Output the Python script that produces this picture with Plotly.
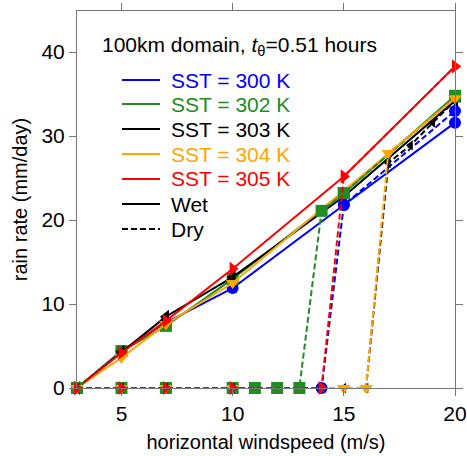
import plotly.graph_objects as go

# ---- data ----
x_wet = [3, 5, 7, 10, 15, 20]
wet_300 = [0, 4.4, 7.8, 11.9, 21.8, 31.6]
wet_302 = [0, 4.4, 7.4, 13.0, 23.2, 34.8]
wet_303 = [0, 4.3, 8.5, 13.2, 22.8, 34.2]
wet_304 = [0, 3.6, 7.6, 12.5, 23.5, 34.5]
wet_305 = [0, 4.2, 8.0, 14.2, 25.2, 38.3]

x_dry_300 = [3, 5, 7, 10, 14, 15, 20]
dry_300 = [0, 0, 0, 0, 0, 21.8, 33.0]
x_dry_302 = [3, 5, 7, 10, 11, 12, 13, 14, 15, 20]
dry_302 = [0, 0, 0, 0, 0, 0, 0, 21.1, 23.2, 34.7]
x_dry_303 = [3, 5, 7, 10, 15, 16, 17, 18, 19, 20]
dry_303 = [0, 0, 0, 0, 0, 0, 26.8, 28.9, 31.6, 34.2]
x_dry_304 = [3, 5, 7, 10, 15, 16, 17, 20]
dry_304 = [0, 0, 0, 0, 0, 0, 28.0, 34.5]
x_dry_305 = [3, 5, 7, 10, 14, 15, 20]
dry_305 = [0, 0, 0, 0, 0, 25.2, 38.3]

sst_labels = ["SST = 300 K", "SST = 302 K", "SST = 303 K", "SST = 304 K", "SST = 305 K"]
colors = ["#0000ff", "#228b22", "#000000", "#ffa500", "#ff0000"]
symbols = ["circle", "square", "triangle-left", "triangle-down", "triangle-right"]

x_ticks = [5, 10, 15, 20]
y_ticks = [0, 10, 20, 30, 40]

FONT = "Liberation Sans, Arial, sans-serif"
FS = 21

fig = go.Figure()

wet = [wet_300, wet_302, wet_303, wet_304, wet_305]
dry = [(x_dry_300, dry_300), (x_dry_302, dry_302), (x_dry_303, dry_303),
       (x_dry_304, dry_304), (x_dry_305, dry_305)]

for i in range(5):
    fig.add_trace(go.Scatter(
        x=x_wet, y=wet[i], mode="lines+markers",
        line=dict(color=colors[i], width=2),
        marker=dict(symbol=symbols[i], size=12, color=colors[i]),
        cliponaxis=False, showlegend=False))

for i in [0, 1, 2, 3, 4]:
    xd, yd = dry[i]
    fig.add_trace(go.Scatter(
        x=xd, y=yd, mode="lines+markers",
        line=dict(color=colors[i], width=2, dash="6px,3px"),
        marker=dict(symbol=symbols[i], size=12 if i != 2 else 9, color=colors[i]),
        cliponaxis=False, showlegend=False))

# ---- manual legend ----
def py2paper(py):
    return (388 - py) / 377.0

x0, x1, xt = (122 - 77) / 378.0, (160 - 77) / 378.0, (169 - 77) / 378.0
leg_y = [80, 104, 129, 154, 179, 204, 229]
leg_items = list(zip(sst_labels, colors, ["solid"] * 5)) + [("Wet", "#000000", "solid"), ("Dry", "#000000", "dash")]
shapes = []
annots = []
for (lab, col, dsh), py in zip(leg_items, leg_y):
    yp = py2paper(py)
    shapes.append(dict(type="line", xref="paper", yref="paper", x0=x0, x1=x1, y0=yp, y1=yp,
                       line=dict(color=col, width=2, dash="6px,3px" if dsh == "dash" else "solid")))
    annots.append(dict(xref="paper", yref="paper", x=xt, y=yp, text=lab, showarrow=False,
                       xanchor="left", yanchor="middle", font=dict(family=FONT, size=FS, color=col)))

annots.append(dict(xref="paper", yref="paper", x=(100 - 77) / 378.0, y=py2paper(46),
                   text="100km domain, <i>t</i><sub>θ</sub>=0.51 hours", showarrow=False,
                   xanchor="left", yanchor="middle", font=dict(family=FONT, size=FS, color="#000")))

axis_common = dict(showgrid=False, zeroline=False, showline=True, linecolor="#777", linewidth=1,
                   mirror="ticks", ticks="outside", ticklen=7, tickcolor="#777", automargin=False,
                   tickfont=dict(family=FONT, size=FS, color="#000"))

fig.update_layout(
    width=467, height=456,
    margin=dict(l=77, r=12, t=11, b=68),
    paper_bgcolor="white", plot_bgcolor="white",
    shapes=shapes, annotations=annots,
    xaxis=dict(range=[3, 20], tickvals=x_ticks,
               title=dict(text="horizontal windspeed (m/s)", font=dict(family=FONT, size=20, color="#000"), standoff=10),
               **axis_common),
    yaxis=dict(range=[0, 44.9], tickvals=y_ticks,
               title=dict(text="rain rate (mm/day)", font=dict(family=FONT, size=20, color="#000"), standoff=8),
               **axis_common),
)

fig.write_html("out.html")
